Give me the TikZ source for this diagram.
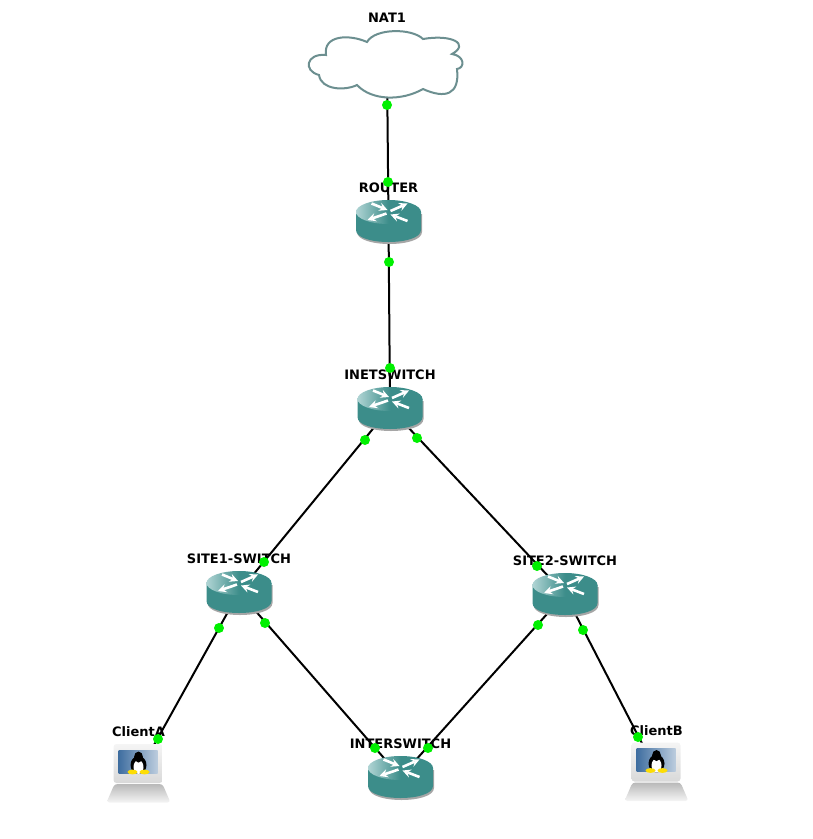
\documentclass[tikz,border=0pt]{standalone}
\usepackage{fontspec}
\setmainfont{DejaVu Sans}
\usetikzlibrary{arrows, positioning}
\definecolor{routerteal}{HTML}{3C8D8A}
\definecolor{routerlight}{HTML}{B0D4D4}
\definecolor{cloudline}{HTML}{6C8F90}
\definecolor{dotgreen}{HTML}{00F000}
\definecolor{screenblue}{HTML}{3F6EA0}
\tikzstyle{device} = [inner sep=0pt, minimum size=0pt]
\tikzstyle{devlabel} = [inner sep=0pt, font=\bfseries\fontsize{13}{15}\selectfont]
\tikzstyle{link} = [line width=2pt, black]
\tikzstyle{linkdot} = [circle, fill=dotgreen, inner sep=0pt, minimum size=10pt]
\tikzstyle{swarrow} = [white, line width=2.6pt, ->, >=stealth]
\tikzset{
  routerpic/.pic={
    \fill[gray!70] (-31.5,-7) -- (-31.5,11) .. controls (-31.5,27) and (33.5,27) .. (33.5,11) -- (33.5,-7) -- cycle;
    \fill[routerteal] (-32.5,-9) -- (-32.5,9) .. controls (-32.5,25) and (32.5,25) .. (32.5,9) -- (32.5,-9) -- cycle;
    \shade[left color=routerlight, right color=routerteal, middle color=routerteal] (0,-9) ellipse [x radius=32.5, y radius=12];
    \draw[swarrow] (-17,-17.5) -- (-1,-11);
    \draw[swarrow] (2,-10) -- (19,-17.5);
    \draw[swarrow] (-2,-7.5) -- (-21,-1);
    \draw[swarrow] (19,0) -- (2,-6.5);
  },
  cloudpic/.pic={
    \draw[cloudline, fill=white, line width=2pt] (-20,-23)
      .. controls (-12,-37) and (25,-37) .. (36,-26)
      .. controls (65,-31) and (83,-21) .. (65,-11)
      .. controls (78,-9) and (78,3) .. (70,4)
      .. controls (73,30) and (58,34) .. (36,24)
      .. controls (15,36) and (-15,36) .. (-30,20)
      .. controls (-42,26) and (-66,25) .. (-68,10)
      .. controls (-84,6) and (-81,-12) .. (-61,-10)
      .. controls (-64,-30) and (-38,-31) .. cycle;
  },
  clientpic/.pic={
    % keyboard
    \shade[top color=gray!55, bottom color=gray!8, rounded corners=3pt] (-24,11) -- (24,11) -- (32,29.5) -- (-32,29.5) -- cycle;
    % monitor
    \shade[top color=gray!8, bottom color=gray!30, rounded corners=3pt] (-25,-29) rectangle (24,10);
    \shade[left color=screenblue, right color=screenblue!35] (-20,-23) rectangle (19,0);
    % penguin
    \fill[black] (0,-8) ellipse [x radius=8, y radius=9];
    \fill[white] (0,-6) ellipse [x radius=5, y radius=7];
    \fill[black] (0,-16) ellipse [x radius=4.5, y radius=5.5];
    \fill[yellow!80!orange] (-6,-1) ellipse [x radius=5, y radius=2.4];
    \fill[yellow!80!orange] (6,-1) ellipse [x radius=5, y radius=2.4];
  }
}
\begin{document}
\begin{tikzpicture}[x=1pt, y=-1pt, node distance=33pt]
    \useasboundingbox (0,0) rectangle (813,839);
    % device centres
    \node (nat) [device] at (387,65) {};
    \node (router) [device] at (388.5,221) {};
    \node (inetswitch) [device] at (390,408) {};
    \node (siteone) [device] at (239,592) {};
    \node (sitetwo) [device] at (565,594) {};
    \node (interswitch) [device] at (400.5,777) {};
    \node (clienta) [device] at (138.5,773) {};
    \node (clientb) [device] at (656.5,771.5) {};

    % labels
    \node (natlabel) [devlabel, above of=nat, node distance=47pt] {NAT1};
    \node (routerlabel) [devlabel, above of=router] {ROUTER};
    \node (inetlabel) [devlabel, above of=inetswitch] {INETSWITCH};
    \node (onelabel) [devlabel, above of=siteone] {SITE1-SWITCH};
    \node (twolabel) [devlabel, above of=sitetwo] {SITE2-SWITCH};
    \node (interlabel) [devlabel, above of=interswitch] {INTERSWITCH};
    \node (clientalabel) [devlabel, above of=clienta, node distance=41pt] {ClientA};
    \node (clientblabel) [devlabel, above of=clientb, node distance=41pt] {ClientB};

    % links
    \draw [link] (nat) -- (router);
    \draw [link] (router) -- (inetswitch);
    \draw [link] (inetswitch) -- (siteone);
    \draw [link] (inetswitch) -- (sitetwo);
    \draw [link] (siteone) -- (clienta);
    \draw [link] (siteone) -- (interswitch);
    \draw [link] (sitetwo) -- (interswitch);
    \draw [link] (sitetwo) -- (clientb);

    \pic at (nat) {cloudpic};
    \foreach \dev in {router,inetswitch,siteone,sitetwo,interswitch}
        \pic at (\dev) {routerpic};
    \pic at (clienta) {clientpic};
    \pic at (clientb) {clientpic};

    % port dots
    \foreach \px/\py [count=\i] in {387/105,388/182,389/262,390/368,365/440,264/562,417/438,537/566,219/628,158/739,265/623,375/748,538/625,428/748,583/630,638/737}
        \node (dot\i) [linkdot] at (\px,\py) {};
\end{tikzpicture}
\end{document}
